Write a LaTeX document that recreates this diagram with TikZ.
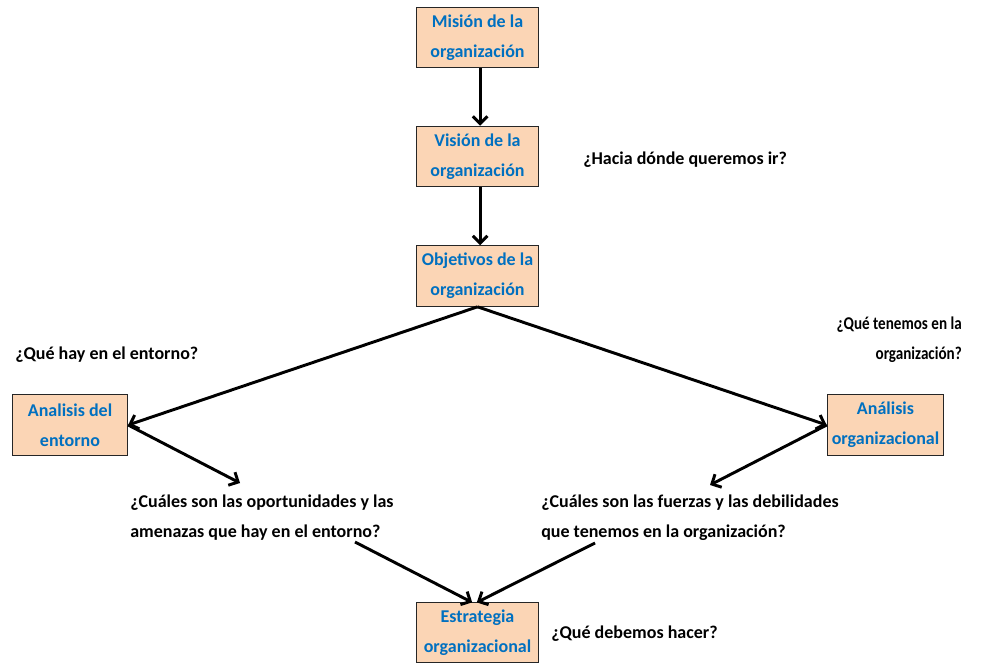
\documentclass[tikz,border=0pt]{standalone}
\usepackage{fontspec}
\setmainfont{Carlito}
\newfontfamily\narrowfont[FakeStretch=0.84]{Carlito}
\usetikzlibrary{arrows.meta}
\definecolor{boxfill}{RGB}{251,213,181}
\definecolor{boxtext}{RGB}{0,112,192}
\tikzset{
  box/.style={draw=black!85, line width=0.7pt, fill=boxfill, text=boxtext,
    inner sep=0pt, align=center, minimum width=91pt, minimum height=45.5pt,
    font=\fontsize{13.5}{22.5}\selectfont\bfseries},
  question/.style={inner sep=0pt, font=\fontsize{13.5}{22.5}\selectfont\bfseries},
  arr/.style={line width=2.2pt, -{Straight Barb[length=5.5pt,width=11pt]}}
}
\begin{document}
\begin{tikzpicture}[x=0.75pt,y=-0.75pt]
\path[use as bounding box, fill=white] (0,0) rectangle (995,665);

% boxes
\node[box] (m) at (477.5,37.5) {Misión de la\\organización};
\node[box] (v) at (477.5,156.5) {Visión de la\\organización};
\node[box] (o) at (477.5,276) {Objetivos de la\\organización};
\node[box, minimum width=86.5pt] (e) at (70,425) {Analisis del\\entorno};
\node[box, minimum width=87.5pt] (a) at (885.5,425) {Análisis\\organizacional};
\node[box, minimum height=44.5pt] (s) at (477.5,632.5) {Estrategia\\organizacional};

% questions
\node[question, anchor=west] (q1) at (583,160) {¿Hacia dónde queremos ir?};
\node[question, anchor=west] (q2) at (15,355) {¿Qué hay en el entorno?};
\node[question, anchor=east, align=right, font=\fontsize{13.5}{22.5}\selectfont\narrowfont\bfseries] (q3) at (962,340) {¿Qué tenemos en la\\organización?};
\node[question, anchor=west, align=left] (q4) at (130,518) {¿Cuáles son las oportunidades y las\\amenazas que hay en el entorno?};
\node[question, anchor=west, align=left] (q5) at (541,518) {¿Cuáles son las fuerzas y las debilidades\\que tenemos en la organización?};
\node[question, anchor=west] (q6) at (551,634) {¿Qué debemos hacer?};

% free ends of connectors
\coordinate (c1) at (240,483);
\coordinate (c2) at (710,485);
\coordinate (c3) at (355,542);
\coordinate (c4) at (595,543);

% connectors
\draw[arr] ([xshift=2pt]m.south) -- ([xshift=2pt]v.north);
\draw[arr] ([xshift=2pt]v.south) -- ([xshift=2pt]o.north);
\draw[arr] (o.south) -- (e.east);
\draw[arr] (o.south) -- (a.west);
\draw[arr] (e.east) -- (c1);
\draw[arr] (a.west) -- (c2);
\draw[arr] (c3) -- ([xshift=-4pt]s.north);
\draw[arr] (c4) -- ([xshift=-0.5pt]s.north);
\end{tikzpicture}
\end{document}
